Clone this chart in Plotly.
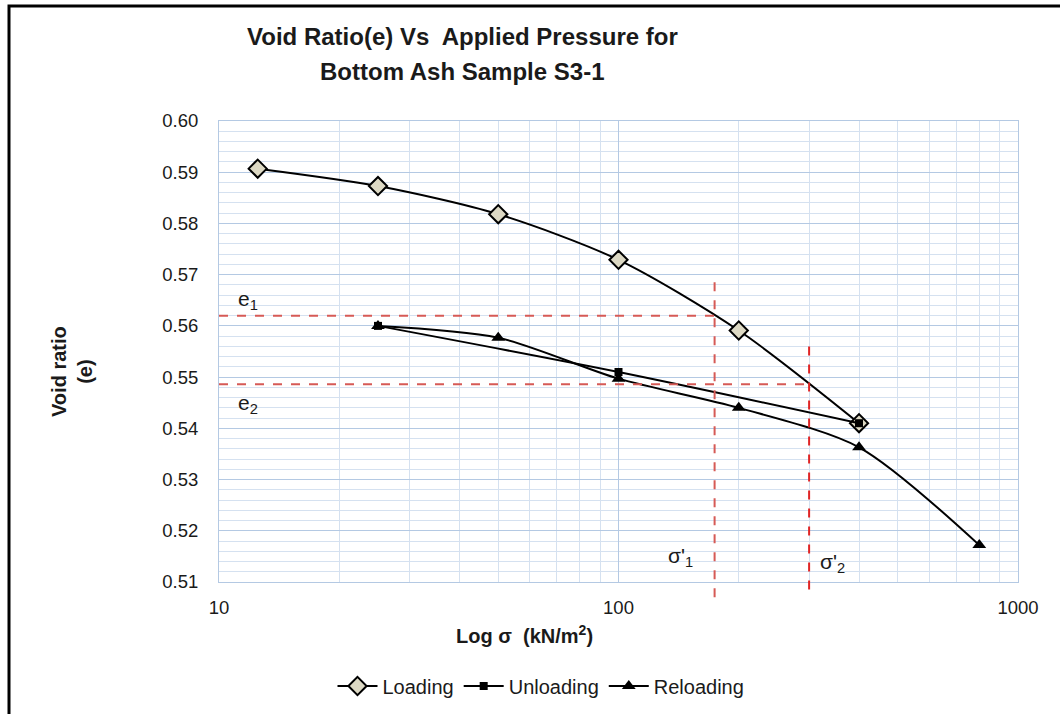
import math
import plotly.graph_objects as go

# ---- data ----
load_x = [12.5, 25, 50, 100, 200, 400]
load_y = [0.5907, 0.5873, 0.5818, 0.5729, 0.5591, 0.5410]
unload_x = [400, 100, 25]
unload_y = [0.5410, 0.5510, 0.5600]
reload_x = [25, 50, 100, 200, 400, 800]
reload_y = [0.5600, 0.5577, 0.5497, 0.5440, 0.5363, 0.5172]

e1 = 0.5620
e2 = 0.5486
sig1 = 174.0
sig2 = 300.0
e1_top_y = 0.5685   # top of sigma'1 vertical line
e2_top_y = 0.5560   # top of sigma'2 vertical line

x_ticks = [10, 100, 1000]
y_ticks = [0.51, 0.52, 0.53, 0.54, 0.55, 0.56, 0.57, 0.58, 0.59, 0.60]

FONT = "Liberation Sans"
TXT = "#1a1a1a"

fig = go.Figure()

fig.add_trace(go.Scatter(
    x=load_x, y=load_y, name="Loading", mode="lines+markers",
    line=dict(color="black", width=2, shape="spline", smoothing=0.8),
    marker=dict(symbol="diamond", size=14, color="#ddd9c4",
                line=dict(color="black", width=2)),
))
fig.add_trace(go.Scatter(
    x=unload_x, y=unload_y, name="Unloading", mode="lines+markers",
    line=dict(color="black", width=2, shape="spline", smoothing=0.8),
    marker=dict(symbol="square", size=8, color="black"),
))
fig.add_trace(go.Scatter(
    x=reload_x, y=reload_y, name="Reloading", mode="lines+markers",
    line=dict(color="black", width=2, shape="spline", smoothing=0.8),
    marker=dict(symbol="triangle-up", size=12, color="black"),
))

RED1 = "#d65a56"
RED2 = "#e02424"
ymin, ymax = 0.51, 0.60

L, R, T, B = 219, 42, 121, 132
PW, PH = 1060 - L - R, 714 - T - B

def ypaper(v):
    return (v - ymin) / (ymax - ymin)

def px2x(px):
    return (px - L) / PW

def px2y(py):
    return (714 - B - py) / PH

# horizontal e lines
fig.add_shape(type="line", xref="x", yref="y", x0=10, x1=sig1, y0=e1, y1=e1,
              line=dict(color=RED1, width=2, dash="dash"))
fig.add_shape(type="line", xref="x", yref="y", x0=10, x1=sig2, y0=e2, y1=e2,
              line=dict(color=RED1, width=2, dash="dash"))
# vertical sigma lines
fig.add_shape(type="line", xref="x", yref="paper", x0=sig1, x1=sig1,
              y0=ypaper(e1_top_y), y1=px2y(601),
              line=dict(color=RED1, width=2, dash="dash"))
fig.add_shape(type="line", xref="x", yref="paper", x0=sig2, x1=sig2,
              y0=ypaper(e2_top_y), y1=px2y(594),
              line=dict(color=RED2, width=2, dash="dash"))

# outer frame (left and top edges visible)
fig.add_shape(type="rect", xref="paper", yref="paper",
              x0=px2x(9), x1=px2x(1066), y0=px2y(740), y1=px2y(6),
              line=dict(color="black", width=3), fillcolor="rgba(0,0,0,0)")

lab_font = dict(family=FONT, size=21, color=TXT)
fig.add_annotation(x=math.log10(11.8), y=0.5650, text="e<sub>1</sub>", showarrow=False, font=lab_font)
fig.add_annotation(x=math.log10(11.8), y=0.5447, text="e<sub>2</sub>", showarrow=False, font=lab_font)
fig.add_annotation(x=math.log10(143), y=0.5148, text="σ'<sub>1</sub>", showarrow=False, font=lab_font)
fig.add_annotation(x=math.log10(343), y=0.5137, text="σ'<sub>2</sub>", showarrow=False, font=lab_font)

# titles
title_font = dict(family=FONT, size=24, color=TXT)
fig.add_annotation(xref="paper", yref="paper", x=px2x(462), y=px2y(37),
                   text="<b>Void Ratio(e) Vs  Applied Pressure for</b>",
                   showarrow=False, font=title_font, xanchor="center", yanchor="middle")
fig.add_annotation(xref="paper", yref="paper", x=px2x(462), y=px2y(72),
                   text="<b>Bottom Ash Sample S3-1</b>",
                   showarrow=False, font=title_font, xanchor="center", yanchor="middle")
fig.add_annotation(xref="paper", yref="paper", x=px2x(524), y=px2y(634),
                   text="<b>Log σ  (kN/m<sup>2</sup>)</b>", showarrow=False,
                   font=dict(family=FONT, size=20, color=TXT), xanchor="center", yanchor="middle")
fig.add_annotation(xref="paper", yref="paper", x=px2x(72), y=px2y(372),
                   text="<b>Void ratio<br>(e)</b>", showarrow=False, textangle=-90,
                   font=dict(family=FONT, size=20, color=TXT), xanchor="center", yanchor="middle")

GRID_MAJ = "#b4c9e3"
GRID_MIN = "#d5e1f0"

fig.update_xaxes(
    type="log", range=[1, 3], tickvals=x_ticks, ticktext=[str(v) for v in x_ticks],
    showgrid=True, gridcolor=GRID_MAJ, gridwidth=1,
    minor=dict(dtick="D1", showgrid=True, gridcolor=GRID_MIN, gridwidth=1, ticks=""),
    showline=True, linecolor=GRID_MAJ, linewidth=1, mirror=True,
    ticks="", tickfont=dict(family=FONT, size=18.5, color=TXT), ticklabelstandoff=9,
    zeroline=False,
)
fig.update_yaxes(
    range=[ymin, ymax], tickvals=y_ticks, tickformat=".2f",
    showgrid=True, gridcolor=GRID_MAJ, gridwidth=1,
    minor=dict(dtick=0.002, showgrid=True, gridcolor=GRID_MIN, gridwidth=1, ticks=""),
    showline=True, linecolor=GRID_MAJ, linewidth=1, mirror=True,
    ticks="", tickfont=dict(family=FONT, size=18.5, color=TXT), ticklabelstandoff=16,
    zeroline=False,
)

fig.update_layout(
    width=1060, height=714,
    margin=dict(l=L, r=R, t=T, b=B, autoexpand=False),
    paper_bgcolor="white", plot_bgcolor="white",
    showlegend=True,
    legend=dict(orientation="h", x=px2x(541), y=px2y(686),
                xanchor="center", yanchor="middle",
                font=dict(family=FONT, size=20, color=TXT),
                itemwidth=40, tracegroupgap=0),
    font=dict(family=FONT, color=TXT),
)

fig.write_html("out.html")
